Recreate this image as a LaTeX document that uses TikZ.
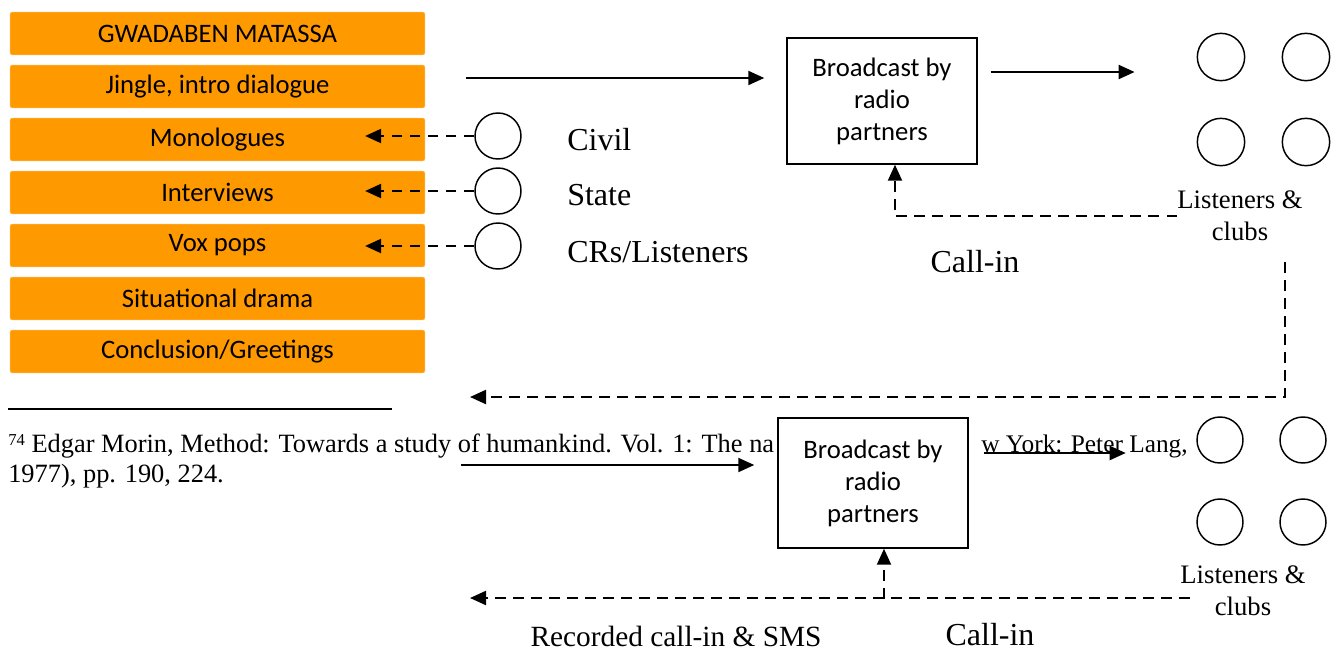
\documentclass[tikz,border=0pt]{standalone}
\usepackage{fontspec}
\setmainfont{Liberation Serif}
\newfontfamily\boxfont{Carlito}
\usetikzlibrary{arrows.meta,calc}
\definecolor{segorange}{HTML}{FF9900}

\begin{document}
\begin{tikzpicture}[x=0.75pt,y=-0.75pt,
  seg/.style={fill=segorange,draw=segorange!70!white,rounded corners=1.5pt,minimum width=311pt,minimum height=32pt,inner sep=0pt,font=\boxfont\fontsize{20}{24}\selectfont},
  ring/.style={circle,draw,line width=1.1pt,minimum size=34.5pt,inner sep=0pt},
  bcast/.style={draw,line width=1.1pt,fill=white,minimum width=142.5pt,align=center,font=\boxfont\fontsize{20}{24}\selectfont},
  lbl/.style={font=\fontsize{24}{28}\selectfont,inner sep=0pt},
  small/.style={font=\fontsize{20}{24}\selectfont,align=center,inner sep=0pt},
  fn/.style={font=\fontsize{19.8}{22}\selectfont,inner sep=0pt},
  flow/.style={line width=1.6pt,-{Triangle[length=12pt,width=10.5pt]}},
  callback/.style={flow,dash pattern=on 8pt off 5.5pt}]
  \useasboundingbox (0,0) rectangle (1343,654);

  % programme segments
  \foreach \i/\txt in {0/GWADABEN MATASSA,1/{Jingle, intro dialogue},2/Monologues,3/Interviews,4/Vox pops,5/Situational drama,6/{Conclusion/Greetings}}
    \node[seg] (seg\i) at (217.5,33.5+53*\i) {\txt};

  % sources
  \node[ring] (civil) at (498,136) {};
  \node[ring] (state) at (498,191) {};
  \node[ring] (crs) at (498,246) {};
  \node[lbl,anchor=west] (civiltxt) at (567,140) {Civil};
  \node[lbl,anchor=west] (statetxt) at (567,195) {State};
  \node[lbl,anchor=west] (crstxt) at (567,252) {CRs/Listeners};
  \draw[callback] (civil.west) -- ($(civil.west -| seg2.east)+(-60,0)$);
  \draw[callback] (state.west) -- ($(state.west -| seg3.east)+(-60,0)$);
  \draw[callback] (crs.west) -- ($(crs.west -| seg4.east)+(-60,0)$);

  % first broadcast
  \node[bcast,minimum height=94.5pt] (bcast1) at (882,101) {Broadcast by\\radio\\partners};
  \draw[flow] ($(bcast1.west |- 0,78)+(-320,0)$) -- ($(bcast1.west |- 0,78)+(-22,0)$);
  \foreach \n/\x/\y in {l11/1221/57,l12/1306/57,l13/1221/142,l14/1306/142}
    \node[ring,minimum size=35.5pt] (\n) at (\x,\y) {};
  \draw[flow] ($(bcast1.east |- 0,72)+(13,0)$) -- ($(l11.west |- 0,72)+(-62,0)$);
  \node[small] (lis1) at (1240,216) {Listeners \&\\clubs};
  \draw[callback] (lis1.west) -| ($(bcast1.south)+(13,0)$);
  \node[lbl] (call1) at (975,262) {Call-in};

  \coordinate (loopA) at (1285,262);
  \coordinate (loopB) at (470,397);
  \draw[callback] (loopA) |- (loopB);

  % footnote
  \draw[line width=1.2pt] (8,409) -- (392,409);
  \node[fn,anchor=base west] (fn1) at (8,452) {\raisebox{0.5ex}{\fontsize{12.5}{14}\selectfont 74} Edgar Morin, Method: Towards a study of humankind. Vol. 1: The na};
  \node[fn,anchor=base west] (fn2) at (8,482) {1977), pp. 190, 224.};
  \node[fn,anchor=base west,font=\fontsize{19}{22}\selectfont] (fn3) at (981,452) {w York: Peter Lang,};

  % second broadcast
  \node[bcast,minimum height=97.5pt] (bcast2) at (873,483) {Broadcast by\\radio\\partners};
  \draw[flow] ($(bcast2.west |- 0,465)+(-316,0)$) -- ($(bcast2.west |- 0,465)+(-23,0)$);
  \foreach \n/\x/\y in {l21/1220/440,l22/1303/440,l23/1220/522,l24/1303/522}
    \node[ring] (\n) at (\x,\y) {};
  \draw[flow] ($(bcast2.east |- 0,453)+(15,0)$) -- ($(bcast2.east |- 0,453)+(157,0)$);
  \node[small] (lis2) at (1243,591) {Listeners \&\\clubs};
  \draw[callback] ($(bcast2.south)+(11,50)$) -- ($(bcast2.south)+(11,0)$);
  \coordinate (recA) at (1190,598);
  \coordinate (recB) at (470,598);
  \draw[callback] (recA) -- (recB);
  \node[lbl,font=\fontsize{22}{26}\selectfont] (rec) at (676,636) {Recorded call-in \& SMS};
  \node[lbl] (call2) at (990,635) {Call-in};
\end{tikzpicture}
\end{document}
